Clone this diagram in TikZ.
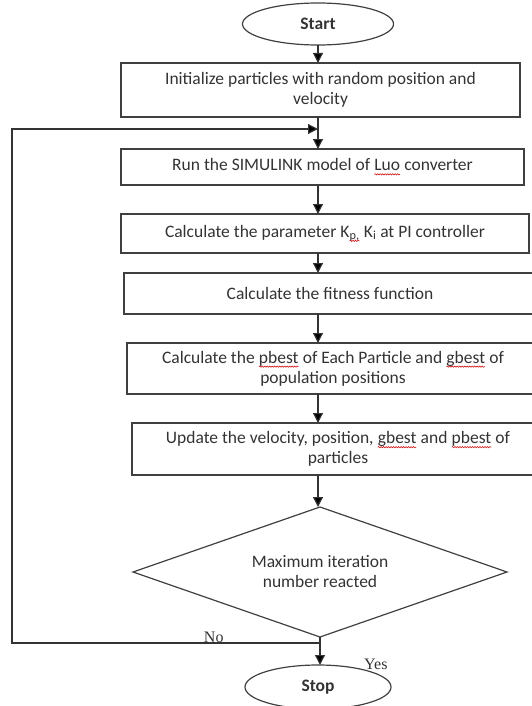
\documentclass[tikz,border=0pt]{standalone}
\usepackage{fontspec}
\setmainfont{Carlito}
\newfontfamily\yesnofont{Liberation Serif}
\usetikzlibrary{shapes.geometric, arrows.meta, positioning, decorations.pathmorphing}

% red wavy spell-check line under a word
\newcommand{\squig}[1]{\tikz[baseline=(sqw.base)]{\node[rectangle, draw=none, fill=none, inner sep=0pt, outer sep=0pt, minimum width=0pt, minimum height=0pt, align=left] (sqw) {#1};
  \draw[red!80!black, line width=0.5pt, decorate, decoration={snake, amplitude=0.7pt, segment length=2.5pt}] ([yshift=-3.5pt]sqw.base west) -- ([yshift=-3.5pt]sqw.base east);}}

\begin{document}
\begin{tikzpicture}[
    x=1pt, y=1pt,
    node distance=30pt,
    every node/.style={text=black!80},
    box/.style={rectangle, draw=black!75, line width=1.2pt, inner sep=2pt, outer sep=0pt, align=center, font=\fontsize{17.5}{20}\selectfont},
    termbox/.style={ellipse, draw=black!75, line width=1.2pt, inner sep=0pt, outer sep=0pt, font=\fontsize{17.5}{20}\selectfont\bfseries},
    decisionbox/.style={diamond, draw=black!75, line width=1.2pt, minimum width=374pt, minimum height=130pt, aspect=2.9, inner sep=0pt, outer sep=0pt, align=center, font=\fontsize{17.5}{20}\selectfont},
    lbl/.style={font=\yesnofont\fontsize{16}{18}\selectfont, inner sep=1pt},
    arrow/.style={-{Triangle[length=10pt, width=10pt]}, line width=1.2pt, draw=black!80}
]
\useasboundingbox (0,0) rectangle (531,-706);

\node[termbox, minimum width=151pt, minimum height=42pt] (start) at (318,-24) {Start};
\node[box, minimum width=399pt, minimum height=54pt, below=18pt of start, xshift=2.5pt] (init) {Initialize particles with random position and\\velocity};
\node[box, minimum width=403pt, minimum height=36pt, below=32pt of init, xshift=2pt] (run) {Run the SIMULINK model of \squig{Luo} converter};
\node[box, minimum width=408pt, minimum height=39pt, below=29pt of run, xshift=2.5pt] (param) {Calculate the parameter K\squig{\textsubscript{p,}} K\textsubscript{i} at PI controller};
\node[box, minimum width=412pt, minimum height=41pt, below=20pt of param, xshift=5pt] (fitness) {Calculate the fitness function};
\node[box, minimum width=412pt, minimum height=51pt, below=29pt of fitness, xshift=3pt] (pbest) {Calculate the \squig{pbest} of Each Particle and \squig{gbest} of\\population positions};
\node[box, minimum width=412pt, minimum height=52pt, below=29pt of pbest, xshift=5pt] (update) {Update the velocity, position, \squig{gbest} and \squig{pbest} of\\particles};
\node[decisionbox, below=32pt of update, xshift=-18pt] (decision) {Maximum iteration\\number reacted};
\node[termbox, minimum width=146pt, minimum height=44pt, below=28pt of decision, xshift=-2pt] (stop) {Stop};

\draw[arrow] (start.south) -- (init.north -| start.south);
\draw[arrow] (init.south -| start.south) -- (run.north -| start.south);
\draw[arrow] (run.south -| start.south) -- (param.north -| start.south);
\draw[arrow] (param.south -| start.south) -- (fitness.north -| start.south);
\draw[arrow] (fitness.south -| start.south) -- (pbest.north -| start.south);
\draw[arrow] (pbest.south -| start.south) -- (update.north -| start.south);
\draw[arrow] (update.south -| start.south) -- (decision.north -| start.south);
\draw[arrow] (decision.south) -- (stop.north -| decision.south);

% back to the simulation when not done
\coordinate (rail) at (12,0);
\coordinate (nojoin) at ([yshift=-6pt]decision.south);
\coordinate (loopjoin) at ([yshift=-12pt]init.south -| start.south);
\draw[arrow] (nojoin) -- node[lbl, pos=0.345, above, inner sep=0pt] (no) {No} (nojoin -| rail) -- (loopjoin -| rail) -- (loopjoin);

\node[lbl, anchor=west] (yes) at ([xshift=43pt, yshift=-27pt]decision.south) {Yes};

\end{tikzpicture}
\end{document}
